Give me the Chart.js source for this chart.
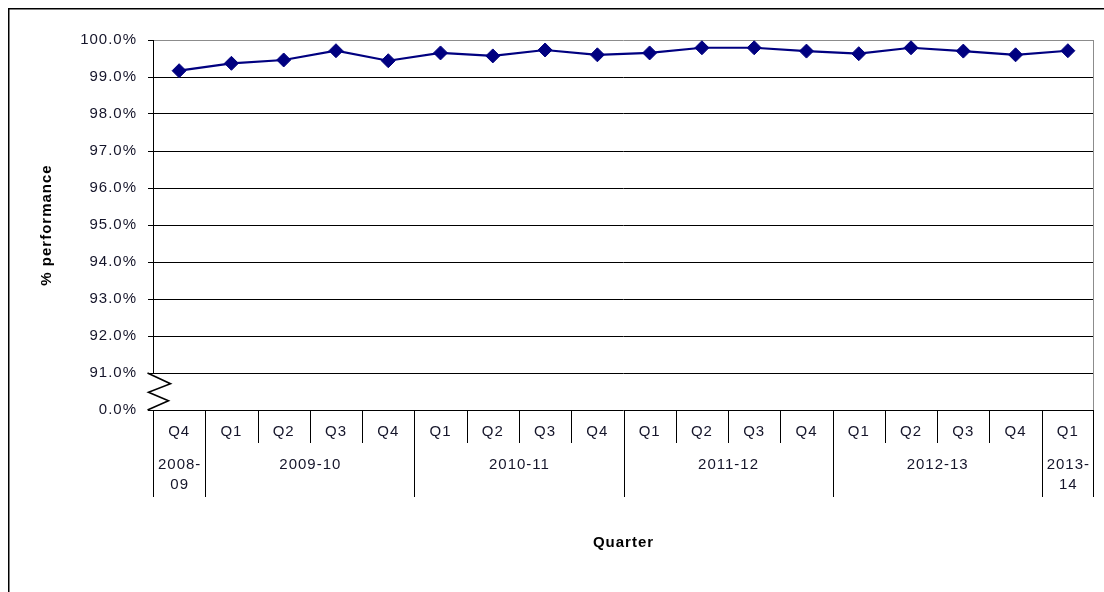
<!DOCTYPE html>
<html>
<head>
<meta charset="utf-8">
<script src="https://cdn.jsdelivr.net/npm/chart.js@4"></script>
<style>
  html, body { margin: 0; padding: 0; background: #fff; }
  #wrap { width: 1104px; height: 592px; position: relative; }
</style>
</head>
<body>
<div id="wrap"><canvas id="c" width="1104" height="592"></canvas></div>
<script>
// ---- data ----
const quarters = ['Q4','Q1','Q2','Q3','Q4','Q1','Q2','Q3','Q4','Q1','Q2','Q3','Q4','Q1','Q2','Q3','Q4','Q1'];
const performance = [99.17, 99.37, 99.46, 99.71, 99.44, 99.65, 99.57, 99.73, 99.6, 99.65, 99.79, 99.79, 99.7, 99.63, 99.79, 99.7, 99.6, 99.71];
const yearLabels = [['2008-','09'], ['2009-10'], ['2010-11'], ['2011-12'], ['2012-13'], ['2013-','14']];
const yearSpans = [1, 4, 4, 4, 4, 1];
const yTickValues = [90, 91, 92, 93, 94, 95, 96, 97, 98, 99, 100];
const yBreakLabel = '0.0%';

const FONT = '"Liberation Sans", Arial, sans-serif';
const SPACING = '1px';
const TEXT = '#15152a';

const spacingPlugin = {
  id: 'spacing',
  beforeDraw(chart) { chart.ctx.letterSpacing = SPACING; }
};

const decorPlugin = {
  id: 'decor',
  afterDraw(chart) {
    const ctx = chart.ctx;
    const ca = chart.chartArea;
    const xs = chart.scales.x, ys = chart.scales.y;
    ctx.save();
    ctx.letterSpacing = SPACING;
    // outer frame
    ctx.strokeStyle = '#000';
    ctx.lineWidth = 1.5;
    ctx.beginPath();
    ctx.moveTo(8.75, 600); ctx.lineTo(8.75, 8.75); ctx.lineTo(1110, 8.75);
    ctx.stroke();

    // right plot border (gray)
    ctx.lineWidth = 1;
    ctx.strokeStyle = '#8c8c8c';
    const rx = Math.round(ca.right) - 0.5;
    ctx.beginPath(); ctx.moveTo(rx, ca.top); ctx.lineTo(rx, ca.bottom); ctx.stroke();

    // y axis line with break
    const L = Math.round(ca.left) + 0.5;
    const y91 = ys.getPixelForValue(91), y90 = ys.getPixelForValue(90);
    ctx.strokeStyle = '#000';
    ctx.beginPath(); ctx.moveTo(L, ca.top); ctx.lineTo(L, y91); ctx.stroke();
    const h = y90 - y91;
    ctx.lineWidth = 1.6;
    ctx.beginPath();
    ctx.moveTo(L - 6, y91);
    ctx.lineTo(L + 17, y91 + 0.29 * h);
    ctx.lineTo(L - 5, y91 + 0.52 * h);
    ctx.lineTo(L + 15, y91 + 0.75 * h);
    ctx.lineTo(L - 6, y90);
    ctx.stroke();

    // x axis separators
    ctx.lineWidth = 1;
    const n = quarters.length;
    const yearBounds = new Set();
    let acc = 0;
    yearBounds.add(0);
    yearSpans.forEach(s => { acc += s; yearBounds.add(acc); });
    const boundX = i => {
      if (i === 0) return ca.left;
      if (i === n) return ca.right;
      return (xs.getPixelForValue(i - 1) + xs.getPixelForValue(i)) / 2;
    };
    for (let i = 0; i <= n; i++) {
      const x = Math.round(boundX(i)) + (i === n ? -0.5 : 0.5);
      const yEnd = yearBounds.has(i) ? 497 : 443;
      ctx.beginPath(); ctx.moveTo(x, ca.bottom); ctx.lineTo(x, yEnd); ctx.stroke();
    }

    // year labels
    ctx.fillStyle = TEXT;
    ctx.font = '15px ' + FONT;
    ctx.textAlign = 'center';
    ctx.textBaseline = 'middle';
    let start = 0;
    yearSpans.forEach((s, k) => {
      const cx = (boundX(start) + boundX(start + s)) / 2 + 0.5;
      yearLabels[k].forEach((line, j) => {
        ctx.fillText(line, cx, 465 + j * 20);
      });
      start += s;
    });
    ctx.restore();
  }
};

new Chart(document.getElementById('c'), {
  type: 'line',
  data: {
    labels: quarters,
    datasets: [{
      data: performance,
      borderColor: '#000080',
      backgroundColor: '#000080',
      borderWidth: 2.2,
      pointStyle: 'rectRot',
      pointRadius: 7,
      pointBorderWidth: 1,
      pointBackgroundColor: '#000080',
      pointBorderColor: '#000080',
      tension: 0,
      fill: false
    }]
  },
  options: {
    responsive: false,
    animation: false,
    devicePixelRatio: 1,
    layout: { padding: { left: 0, right: 10, top: 40, bottom: 0 } },
    plugins: { legend: { display: false }, tooltip: { enabled: false } },
    scales: {
      x: {
        type: 'category',
        offset: true,
        border: { display: false },
        grid: { display: false, drawTicks: false, tickLength: 0 },
        ticks: {
          color: TEXT,
          font: { family: FONT, size: 15 },
          padding: 13,
          maxRotation: 0,
          autoSkip: false
        },
        title: {
          display: true,
          text: 'Quarter',
          color: '#000',
          font: { family: FONT, size: 15, weight: 'bold' },
          padding: { top: 0, bottom: 40 }
        },
        afterFit(scale) { scale.height = 182; }
      },
      y: {
        min: 90,
        max: 100,
        border: { display: false },
        afterBuildTicks(scale) { scale.ticks = yTickValues.map(v => ({ value: v })); },
        grid: {
          color: ctx => (ctx.tick && ctx.tick.value === 100) ? '#8c8c8c' : '#000',
          tickColor: '#000',
          tickLength: 5,
          lineWidth: 1
        },
        ticks: {
          color: TEXT,
          font: { family: FONT, size: 15 },
          padding: 11,
          callback: v => v === 90 ? yBreakLabel : v.toFixed(1) + '%'
        },
        title: {
          display: true,
          text: '% performance',
          color: '#000',
          font: { family: FONT, size: 15, weight: 'bold' },
          padding: { top: 38, bottom: 0 }
        },
        afterFit(scale) { scale.width = 153; }
      }
    }
  },
  plugins: [spacingPlugin, decorPlugin]
});
</script>
</body>
</html>
